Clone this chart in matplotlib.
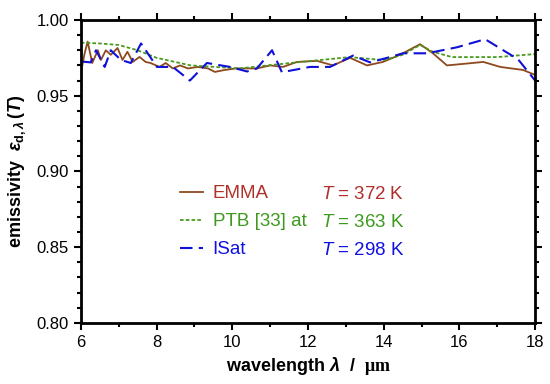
import numpy as np
import matplotlib.pyplot as plt
from matplotlib.ticker import MultipleLocator

plt.rcParams['font.family'] = ['Liberation Sans', 'DejaVu Sans']
plt.rcParams['mathtext.fontset'] = 'custom'
plt.rcParams['mathtext.rm'] = 'Liberation Sans:bold'
plt.rcParams['mathtext.it'] = 'Liberation Sans:italic'
plt.rcParams['mathtext.bfit'] = 'Liberation Sans:bold:italic'
plt.rcParams['mathtext.sf'] = 'Liberation Serif:bold'

# EMMA, T = 372 K
wl_emma = [6.0, 6.1, 6.18, 6.3, 6.45, 6.53, 6.66, 6.79, 6.97, 7.10, 7.23, 7.37,
           7.55, 7.71, 7.84, 8.08, 8.24, 8.43, 8.62, 8.83, 9.09, 9.36, 9.54, 9.80,
           10.09, 10.4, 10.65, 11.0, 11.34, 11.71, 12.24, 12.66, 13.11, 13.56,
           13.98, 14.43, 14.96, 15.30, 15.67, 16.10, 16.63, 17.08, 17.68, 18.0]
eps_emma = [0.965, 0.978, 0.9857, 0.9716, 0.980, 0.9736, 0.980, 0.977, 0.9815,
            0.9736, 0.979, 0.9723, 0.9756, 0.9723, 0.9716, 0.969, 0.9716, 0.968,
            0.970, 0.968, 0.969, 0.968, 0.9657, 0.967, 0.968, 0.968, 0.968, 0.970,
            0.969, 0.9723, 0.973, 0.970, 0.975, 0.970, 0.9723, 0.977, 0.984,
            0.978, 0.970, 0.971, 0.9723, 0.969, 0.967, 0.9637]

# PTB [33], T = 363 K
wl_ptb = [6.0, 6.5, 7.0, 7.5, 8.0, 8.9, 10.2, 11.5, 13.1, 14.0, 14.5, 14.96,
          15.3, 15.8, 17.0, 18.0]
eps_ptb = [0.985, 0.9845, 0.9835, 0.980, 0.975, 0.970, 0.968, 0.9715, 0.9755,
           0.9735, 0.977, 0.9835, 0.979, 0.9755, 0.9755, 0.9775]

# ISat, T = 298 K
wl_isat = [6.05, 6.26, 6.40, 6.63, 6.79, 7.06, 7.32, 7.59, 8.01, 8.43, 8.88, 9.33,
           9.94, 10.39, 10.65, 11.05, 11.31, 12.05, 12.58, 13.19, 13.64, 14.09,
           14.51, 15.15, 15.94, 16.68, 17.55, 18.0]
eps_isat = [0.9725, 0.972, 0.980, 0.969, 0.980, 0.9736, 0.9716, 0.9845, 0.969,
            0.969, 0.960, 0.9716, 0.969, 0.966, 0.968, 0.980, 0.9655, 0.969,
            0.969, 0.9765, 0.972, 0.975, 0.978, 0.978, 0.982, 0.9873, 0.974, 0.960]

labels = ['EMMA', 'PTB [33] at', 'ISat']
temps = ['372', '363', '298']
line_colors = ['#8e4a1e', '#4a9a1e', '#1010d8']
text_colors = ['#b0302a', '#3c9a1e', '#1010e0']

fig = plt.figure(figsize=(5.5, 3.84), dpi=100)
ax = fig.add_axes([0.147, 0.159, 0.826, 0.789])

l1, = ax.plot(wl_emma, eps_emma, color=line_colors[0], lw=1.3, ls='-')
l2, = ax.plot(wl_ptb, eps_ptb, color=line_colors[1], lw=1.3, ls=(0, (2, 1.2)))
l3, = ax.plot(wl_isat, eps_isat, color=line_colors[2], lw=1.5, ls=(0, (6, 3)))

ax.set_xlim(6, 18)
ax.set_ylim(0.80, 1.00)
ax.xaxis.set_major_locator(MultipleLocator(2))
ax.xaxis.set_minor_locator(MultipleLocator(1))
ax.yaxis.set_major_locator(MultipleLocator(0.05))
ax.yaxis.set_minor_locator(MultipleLocator(0.01))
ax.yaxis.set_major_formatter(plt.FormatStrFormatter('%.2f'))
ax.tick_params(which='both', direction='out', top=True, right=True,
               labeltop=False, labelright=False, width=1.5, labelsize=12)
ax.tick_params(which='major', length=5)
ax.tick_params(which='minor', length=3)
for s in ax.spines.values():
    s.set_linewidth(2)

ax.set_xlabel(r'wavelength $\mathbfit{\lambda}$  /  $\mathsf{\mu m}$', fontsize=13,
              fontweight='bold', labelpad=4)
ax.set_ylabel(r'emissivity  $\mathbfit{\varepsilon}_{\mathrm{d},\mathbfit{\lambda}}\,(\mathbfit{T})$',
              fontsize=13, fontweight='bold', labelpad=6)

leg = ax.legend([l1, l2, l3], labels, loc='upper left', bbox_to_anchor=(0.218, 0.455),
                frameon=False, fontsize=13.5, handlelength=1.25, handletextpad=0.5,
                labelspacing=0.58, borderpad=0, borderaxespad=0,
                labelcolor=text_colors)
for i, (t, c) in enumerate(zip(temps, text_colors)):
    ax.text(0.529, 0.425 - i * 0.0935, '$T$ = ' + t + ' K', color=c, fontsize=13.5,
            transform=ax.transAxes, va='center')

fig.savefig('out.png', dpi=100)
